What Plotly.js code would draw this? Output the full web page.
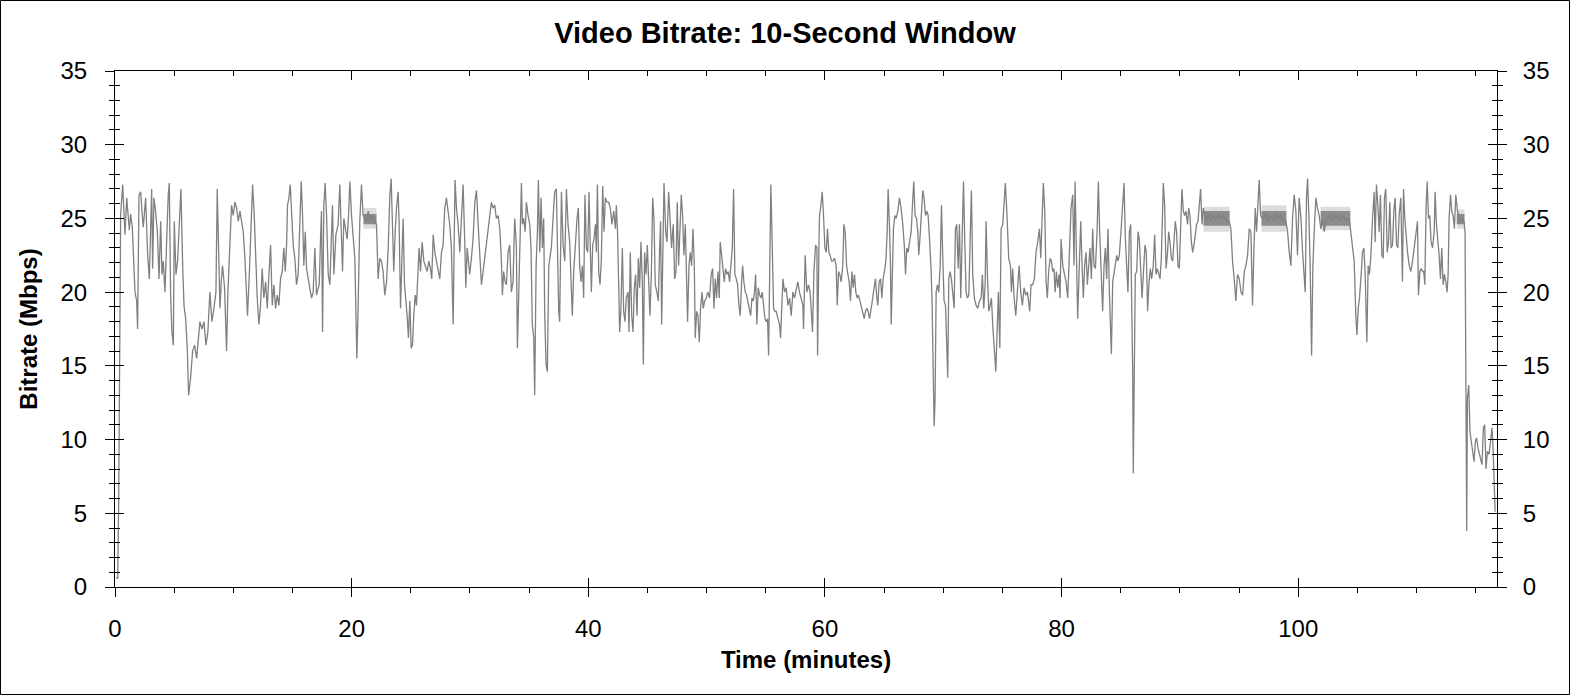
<!DOCTYPE html>
<html>
<head>
<meta charset="utf-8">
<script src="https://cdn.plot.ly/plotly-3.0.1.min.js"></script>
<style>
html,body{margin:0;padding:0;background:#fff;}
#chart{width:1570px;height:695px;}
</style>
</head>
<body>
<div id="chart"></div>
<script>
// Time in minutes
const time = [
0.08,0.23,0.31,0.37,0.48,0.65,0.84,0.99,1.13,1.21,1.32,1.46,1.55,1.69,1.83,1.91,2.03,2.17,2.31,2.39,2.59,2.76,2.90,3.01,3.10,3.18,3.29,3.43,3.58,3.72,3.86,3.97,4.08,4.22,4.36,4.50,4.59,4.70,4.81,4.93,5.01,5.15,5.29,5.43,5.57,5.72,5.83,5.97,6.11,6.22,6.39,6.56,6.73,6.90,7.07,7.18,7.35,7.52,7.69,7.85,8.02,8.19,8.36,8.53,8.64,8.76,8.87,8.98,9.09,9.26,9.43,9.54,9.71,9.85,9.99,10.14,10.28,10.42,10.56,10.70,10.84,10.98,11.12,11.20,11.35,11.46,11.63,11.77,11.91,12.02,12.16,12.30,12.44,12.58,12.73,12.87,13.01,13.15,13.29,13.43,13.57,13.71,13.85,13.99,14.13,14.27,14.39,14.50,14.58,14.70,14.81,14.92,15.06,15.20,15.34,15.48,15.63,15.74,15.85,15.96,16.08,16.19,16.33,16.47,16.61,16.75,16.89,17.03,17.26,17.37,17.45,17.54,17.65,17.76,17.88,18.02,18.16,
18.38,18.50,18.67,18.86,19.00,19.14,19.23,19.34,19.48,19.62,19.74,19.85,19.99,20.13,20.27,20.35,20.44,20.55,20.69,20.83,20.97,21.11,21.25,21.40,21.54,21.68,21.82,21.96,22.10,22.24,22.38,22.52,22.66,22.80,22.95,23.09,23.23,23.34,23.45,23.56,23.68,23.79,23.93,24.01,24.13,24.24,24.35,24.47,24.58,24.69,24.80,24.92,25.03,25.14,25.25,25.37,25.48,25.59,25.70,25.82,25.96,26.10,26.24,26.38,26.52,26.66,26.77,26.89,27.03,27.17,27.31,27.45,27.59,27.73,27.87,28.01,28.15,28.29,28.43,28.58,28.66,28.74,28.86,29.00,29.14,29.28,29.42,29.56,29.65,29.76,29.87,29.98,30.12,30.26,30.41,30.55,30.69,30.83,30.97,31.11,31.25,31.39,31.53,31.67,31.81,31.95,32.09,32.23,32.38,32.52,32.66,32.74,32.85,32.97,33.08,33.22,33.36,33.50,33.64,33.78,33.92,34.01,34.12,34.23,34.35,34.43,34.54,34.66,34.77,34.91,35.05,35.16,35.27,35.39,35.47,35.59,35.70,35.78,35.90,36.01,36.12,36.23,36.32,36.43,36.54,36.66,36.77,36.88,37.02,37.16,37.30,37.39,37.50,37.58,
37.73,37.87,38.01,38.15,38.29,38.43,38.57,38.65,38.77,38.91,39.05,39.16,39.27,39.39,39.50,39.61,39.72,39.84,39.95,40.06,40.17,40.26,40.37,40.48,40.60,40.68,40.77,40.88,40.99,41.10,41.22,41.33,41.44,41.58,41.72,41.86,42.00,42.15,42.29,42.37,42.48,42.57,42.65,42.76,42.88,42.99,43.10,43.21,43.36,43.44,43.55,43.67,43.78,43.89,44.00,44.12,44.23,44.34,44.45,44.57,44.65,44.76,44.88,44.99,45.10,45.21,45.33,45.44,45.55,45.66,45.80,45.92,46.03,46.11,46.20,46.31,46.40,46.54,46.65,46.79,46.90,47.04,47.18,47.30,47.41,47.52,47.63,47.75,47.86,47.97,48.08,48.20,48.31,48.39,48.51,48.62,48.73,48.85,48.96,49.04,49.16,49.27,49.38,49.49,49.61,49.72,49.83,49.97,50.11,50.25,50.39,50.51,50.62,50.73,50.84,50.96,51.07,51.15,51.27,51.38,51.49,51.60,51.72,51.83,51.94,52.05,52.17,52.28,52.39,52.51,52.62,52.73,52.84,52.96,53.04,53.15,53.27,53.38,53.49,53.60,53.72,53.83,53.94,54.05,54.14,54.25,54.36,54.48,54.59,54.70,54.81,54.93,55.04,55.15,55.24,55.35,55.43,55.55,55.66,55.77,55.88,56.03,56.17,56.25,56.36,56.45,56.59,56.73,56.87,57.01,57.15,57.29,57.43,57.57,57.71,
57.85,57.99,58.14,58.19,58.33,58.47,58.61,58.75,58.87,58.95,59.07,59.21,59.32,59.38,59.49,59.54,59.66,59.77,59.88,60.00,60.11,60.22,60.33,60.44,60.56,60.67,60.81,60.95,61.04,61.15,61.26,61.37,61.51,61.60,61.71,61.83,61.94,62.05,62.16,62.28,62.39,62.50,62.61,62.73,62.84,62.95,63.06,63.18,63.32,63.43,63.54,63.65,63.77,63.91,64.05,64.19,64.27,64.39,64.47,64.58,64.70,64.81,64.92,65.03,65.15,65.26,65.34,65.46,65.54,65.60,65.71,65.79,65.91,66.02,66.16,66.30,66.44,66.58,66.72,66.81,66.92,67.03,67.15,67.29,67.43,67.51,67.62,67.74,67.85,67.93,68.05,68.16,68.27,68.38,68.50,68.61,68.72,68.84,68.98,69.06,69.15,69.23,69.31,69.40,69.51,69.62,69.74,69.85,69.96,70.07,70.19,70.30,70.38,70.47,70.58,70.69,70.80,70.92,71.03,71.14,71.26,71.37,71.48,71.59,71.71,71.82,71.93,72.04,72.16,72.27,72.38,72.49,72.63,72.78,72.92,73.06,73.20,73.31,73.42,73.54,73.62,73.73,73.85,73.96,74.07,74.18,74.32,74.44,74.55,74.66,74.78,74.89,75.03,75.14,75.25,75.39,75.53,75.68,75.76,75.87,75.99,76.13,76.27,76.41,76.55,76.69,76.83,76.97,77.11,
77.22,77.31,77.42,77.56,77.70,77.84,77.98,78.13,78.24,78.35,78.46,78.58,78.69,78.80,78.91,79.03,79.14,79.25,79.36,79.45,79.56,79.67,79.79,79.87,79.96,80.10,80.24,80.38,80.52,80.66,80.80,80.94,81.05,81.14,81.25,81.36,81.50,81.62,81.73,81.84,81.95,82.07,82.18,82.29,82.40,82.52,82.63,82.74,82.86,83.00,83.11,83.22,83.33,83.47,83.59,83.70,83.81,83.92,84.04,84.12,84.21,84.32,84.43,84.54,84.66,84.77,84.88,85.02,85.16,85.28,85.39,85.50,85.61,85.73,85.84,85.92,86.01,86.06,86.15,86.23,86.35,86.46,86.57,86.68,86.80,86.91,87.05,87.16,87.27,87.39,87.50,87.61,87.75,87.87,87.98,88.09,88.20,88.32,88.43,88.51,88.60,88.71,88.83,88.94,89.05,89.16,89.28,89.39,89.50,89.61,89.72,89.84,89.95,90.06,90.17,90.29,90.40,90.51,90.65,90.74,90.85,90.97,91.08,91.19,91.30,91.41,91.53,91.64,91.75,91.87,91.98,92.20,92.42,92.62,92.82,93.04,93.27,93.47,93.67,93.89,94.17,94.31,94.45,94.59,94.73,94.87,95.02,95.16,95.30,95.44,95.58,95.72,95.86,96.00,96.14,
96.25,96.37,96.48,96.59,96.70,96.82,96.99,97.21,97.41,97.61,97.83,98.06,98.26,98.48,98.68,98.96,99.10,99.24,99.38,99.52,99.66,99.80,99.94,100.08,100.23,100.37,100.51,100.59,100.70,100.79,100.90,101.01,101.13,101.24,101.35,101.49,101.63,101.77,101.91,102.06,102.20,102.34,102.62,102.90,103.18,103.46,103.74,104.03,104.31,104.45,104.59,104.73,104.87,104.96,105.07,105.18,105.32,105.43,105.55,105.66,105.80,105.91,106.02,106.14,106.28,106.42,106.50,106.61,106.73,106.84,106.95,107.07,107.18,107.29,107.40,107.52,107.63,107.74,107.85,107.97,108.08,108.19,108.31,108.42,108.53,108.67,108.81,108.90,109.01,109.12,109.24,109.38,109.52,109.66,109.80,109.94,110.08,110.16,110.28,110.39,110.50,110.61,110.70,110.81,110.90,111.01,111.12,111.23,111.35,111.49,111.57,111.68,111.80,111.91,112.02,112.13,112.25,112.36,112.47,112.58,112.67,112.75,112.87,112.98,113.09,113.20,113.32,113.46,113.60,113.74,113.88,114.02,114.10,114.16,114.24,114.30,114.41,114.52,114.64,114.75,114.86,114.97,115.08,115.20,115.31,115.42,115.53,115.65,115.76,115.87,115.99,116.13,116.27,116.38,116.47,116.55,116.64
];

// Bitrate in Mbps
const bitrate = [
0.6,0.6,5.8,16.2,25.3,27.3,23.9,26.4,24.6,24.2,25.3,24.4,22.7,20.0,19.4,17.5,26.6,26.8,25.2,24.4,26.4,22.5,20.9,23.9,27.0,21.6,26.4,25.5,24.1,20.9,24.8,21.2,22.1,20.0,23.9,26.6,27.4,19.8,17.3,16.4,24.8,21.2,22.1,24.1,27.0,21.8,19.1,18.2,16.2,13.0,14.2,16.0,16.4,15.5,16.9,18.0,17.5,18.0,16.4,17.3,20.0,18.0,18.9,20.0,27.0,21.8,18.9,20.7,21.8,20.3,16.0,20.0,22.7,25.9,25.2,26.1,25.7,24.8,25.5,24.8,24.1,22.3,20.0,18.4,21.2,24.1,27.3,25.2,21.8,19.6,17.8,19.1,21.6,19.6,20.7,18.9,21.2,23.2,19.1,20.5,18.9,19.8,19.1,20.9,21.4,23.0,21.4,23.2,25.9,26.4,27.3,25.7,23.2,22.3,20.5,21.2,25.0,27.5,25.2,21.8,24.1,21.6,20.9,20.3,19.6,20.0,23.0,19.8,20.5,23.6,25.5,17.3,25.9,27.4,25.2,21.2,20.5,
25.9,21.2,23.9,24.6,27.3,23.2,21.4,25.0,24.3,23.6,25.2,27.5,25.2,23.9,22.3,19.1,15.5,19.1,24.8,27.3,25.2,25.0,24.8,25.5,24.8,25.2,25.0,24.8,24.6,20.9,22.3,22.1,21.4,19.8,20.7,23.0,26.6,27.7,23.6,21.4,24.1,25.7,26.8,24.8,18.9,23.0,25.0,20.5,19.6,18.4,16.9,19.4,16.2,16.4,18.4,19.8,19.1,21.8,23.0,21.4,23.4,22.1,21.8,21.4,22.1,21.6,20.9,23.9,22.7,22.1,21.4,20.9,22.7,23.2,25.7,26.4,25.5,24.6,23.0,17.8,23.0,27.6,25.7,24.6,22.7,24.6,27.3,23.4,20.3,23.0,21.8,21.2,22.3,23.6,26.1,26.9,24.6,22.5,20.5,21.4,22.3,23.0,24.1,25.2,26.1,25.7,25.9,25.0,25.2,24.3,22.1,19.8,21.4,20.7,20.5,22.7,23.2,20.0,20.7,25.0,23.2,16.2,20.3,23.0,27.4,24.6,25.0,24.1,26.1,25.2,24.6,23.0,17.8,16.9,13.0,21.8,24.1,27.6,22.7,26.4,23.0,25.0,18.4,15.1,14.6,21.8,22.3,23.0,25.0,26.8,27.0,21.8,18.7,18.0,
26.8,23.2,22.1,27.0,24.6,23.4,20.0,18.4,21.4,23.4,25.0,25.7,21.8,20.7,21.8,19.6,26.6,23.0,22.7,26.8,21.8,20.0,23.2,23.6,24.6,22.7,27.3,21.4,20.5,22.1,27.2,24.1,26.4,26.1,26.1,25.7,24.6,25.5,24.3,25.9,23.9,19.6,17.3,18.9,23.0,18.7,18.0,19.6,20.0,17.3,22.7,18.4,17.3,20.3,21.2,18.4,22.3,20.3,23.4,20.7,15.1,22.7,21.2,23.2,20.0,18.4,21.2,26.4,25.0,20.5,20.0,19.4,23.0,24.8,17.8,24.1,27.4,24.1,23.4,26.8,24.8,23.0,24.6,20.9,21.4,26.1,21.8,24.1,26.6,25.2,22.5,24.6,19.6,18.0,21.8,22.7,21.8,24.3,21.8,16.9,18.7,18.4,16.6,18.9,20.0,18.9,19.4,19.6,20.0,19.6,21.2,21.6,18.9,20.9,19.6,21.4,19.6,23.4,22.5,21.8,20.7,21.6,21.2,21.4,20.7,21.8,23.0,27.0,21.2,20.9,20.5,19.1,18.4,20.7,21.8,20.7,20.0,19.8,19.4,18.9,18.4,19.6,19.4,20.0,21.2,17.8,20.3,19.8,19.6,20.0,18.9,18.2,18.0,18.2,15.7,24.1,27.3,23.0,18.9,18.7,18.7,18.2,17.8,16.9,20.0,20.9,20.0,20.3,19.1,19.6,18.4,20.0,19.6,20.3,20.7,
20.0,19.6,19.1,17.5,22.5,20.0,20.5,20.0,18.2,17.3,21.4,23.2,23.0,15.7,23.0,25.2,25.9,26.8,25.2,23.0,22.7,24.3,22.7,22.5,22.1,22.1,22.3,21.8,19.1,21.4,21.2,20.7,21.8,24.6,24.1,21.8,21.2,20.7,19.4,21.4,20.3,21.2,20.0,19.6,19.8,19.4,19.1,18.7,18.2,18.7,18.9,18.7,18.2,18.9,19.6,20.5,20.9,19.6,19.1,20.7,20.9,19.6,20.9,21.4,22.1,24.1,27.0,24.3,21.8,17.8,21.8,24.3,25.2,25.0,25.5,26.4,25.7,24.6,23.0,21.2,23.0,22.7,23.4,24.1,26.4,27.5,25.2,25.0,24.1,22.5,23.9,25.9,26.9,26.4,25.2,25.5,25.2,23.6,21.4,19.1,12.8,10.9,12.8,20.0,20.5,20.0,21.8,25.9,22.3,19.4,19.1,15.5,14.2,20.9,21.4,20.9,19.6,18.9,24.3,24.6,21.6,24.6,19.6,23.0,27.5,23.4,20.0,19.6,19.8,23.4,26.9,21.2,19.6,19.1,18.9,19.4,19.6,21.2,18.9,20.5,24.8,21.2,18.7,19.1,19.6,17.8,16.4,14.6,17.3,20.0,16.2,24.3,24.6,26.4,27.4,25.2,22.3,21.8,20.0,21.6,19.6,18.4,19.8,21.8,20.0,19.1,20.3,19.8,20.0,
19.1,18.7,20.5,20.5,20.9,22.7,23.4,24.3,22.3,24.6,27.4,25.5,20.7,19.6,21.4,22.3,22.1,21.4,21.6,20.0,21.4,20.3,21.2,19.6,23.6,21.8,21.2,20.7,19.6,23.2,25.7,26.6,21.8,27.5,22.5,18.2,21.8,24.8,21.8,19.6,21.8,22.7,20.5,21.8,23.0,20.9,24.3,21.8,21.6,24.1,27.5,24.1,21.4,18.7,21.8,23.0,20.9,24.3,20.0,18.4,15.8,20.7,21.2,21.8,22.5,22.1,22.5,24.1,25.9,27.4,23.6,22.1,20.0,24.1,24.6,19.6,14.6,7.7,14.2,21.2,21.4,24.1,23.6,21.8,19.6,21.2,23.2,22.7,18.7,20.7,21.6,20.9,21.8,23.9,21.2,21.6,21.2,20.9,22.3,25.2,27.4,25.9,21.6,22.5,24.1,23.4,22.3,22.1,23.4,24.8,24.1,21.8,21.6,24.6,27.0,25.5,25.2,25.5,24.6,25.7,25.2,23.4,22.7,23.2,23.9,24.6,24.8,26.1,27.0,24.6,25.7,24.9,25.3,24.8,25.2,24.9,25.3,25.0,25.2,24.9,24.8,24.3,22.1,20.9,19.4,21.2,20.9,20.0,19.8,21.4,21.8,22.5,24.3,24.1,19.1,
22.7,25.7,24.1,25.9,27.6,25.2,25.0,25.3,24.8,25.2,24.9,25.3,25.0,25.2,24.9,24.8,24.1,22.7,21.8,25.0,26.6,25.5,22.5,26.4,25.0,22.7,21.2,20.0,26.4,27.7,25.2,21.8,15.7,21.8,24.1,26.4,25.7,25.2,24.3,25.0,24.1,24.8,25.2,24.9,25.2,24.9,25.2,24.9,25.0,24.1,23.4,22.1,18.4,17.1,18.9,19.6,21.2,22.7,23.0,21.2,16.6,21.8,21.2,22.5,25.0,26.8,23.4,27.3,25.9,24.1,26.6,22.5,22.3,26.4,27.0,22.7,23.4,26.1,23.0,23.2,25.5,26.4,23.2,23.0,25.2,26.4,20.7,27.0,25.0,23.6,22.7,21.8,21.4,22.1,23.0,24.1,24.8,19.8,21.4,21.6,21.4,21.4,20.5,25.9,27.5,25.0,25.2,23.4,23.0,24.1,26.8,24.6,23.6,22.5,20.9,23.0,20.5,21.2,20.7,20.0,21.2,25.0,26.6,25.5,25.2,24.3,26.6,25.5,25.0,24.8,25.0,24.8,24.1,13.9,3.8,12.8,13.7,10.5,9.9,9.2,8.5,9.9,10.1,9.4,9.0,8.7,8.3,10.8,11.0,8.0,9.2,9.0,10.1,10.8,9.4,7.1,5.1
];

// Steady stretches where the 10-second window shows a dense band (minutes, Mbps)
const bandStart = [21.0, 92.0, 96.9, 101.9, 113.4];
const bandEnd   = [22.1, 94.2, 99.0, 104.4, 114.05];
const lightLow  = [24.3, 24.1, 24.1, 24.2, 24.3];
const lightHigh = [25.7, 25.8, 25.9, 25.8, 25.6];
const darkLow   = [24.6, 24.5, 24.5, 24.5, 24.6];
const darkHigh  = [25.3, 25.5, 25.5, 25.5, 25.3];

const xTicks = [0, 20, 40, 60, 80, 100];
const yTicks = [0, 5, 10, 15, 20, 25, 30, 35];

const FONT = 'Liberation Sans, Arial, Helvetica, sans-serif';
const XR = [0, 116.8];
const YR = [0, 35];

function bandPolys(lo, hi) {
  const xs = [], ys = [];
  for (let i = 0; i < bandStart.length; i++) {
    xs.push(bandStart[i], bandEnd[i], bandEnd[i], bandStart[i], bandStart[i], null);
    ys.push(lo[i], lo[i], hi[i], hi[i], lo[i], null);
  }
  return {x: xs, y: ys};
}
const lightPoly = bandPolys(lightLow, lightHigh);
const darkPoly = bandPolys(darkLow, darkHigh);

const common = {
  showgrid: false, zeroline: false, fixedrange: true, autorange: false,
  tickcolor: '#000', tickwidth: 1, linecolor: '#000', linewidth: 1
};

const traces = [
  {x: lightPoly.x, y: lightPoly.y, type: 'scatter', mode: 'lines', fill: 'toself',
   fillcolor: '#dcdcdc', line: {width: 0, color: '#dcdcdc'}, hoverinfo: 'skip', showlegend: false},
  {x: darkPoly.x, y: darkPoly.y, type: 'scatter', mode: 'lines', fill: 'toself',
   fillcolor: '#8c8c8c', line: {width: 0, color: '#8c8c8c'}, hoverinfo: 'skip', showlegend: false},
  {x: time, y: bitrate, type: 'scatter', mode: 'lines',
   line: {color: '#808080', width: 1.3}, hoverinfo: 'skip', showlegend: false,
   xaxis: 'x', yaxis: 'y'},
  {x: [null], y: [null], type: 'scatter', mode: 'lines', xaxis: 'x2', yaxis: 'y', showlegend: false, hoverinfo: 'skip'},
  {x: [null], y: [null], type: 'scatter', mode: 'lines', xaxis: 'x3', yaxis: 'y', showlegend: false, hoverinfo: 'skip'},
  {x: [null], y: [null], type: 'scatter', mode: 'lines', xaxis: 'x', yaxis: 'y2', showlegend: false, hoverinfo: 'skip'},
  {x: [null], y: [null], type: 'scatter', mode: 'lines', xaxis: 'x', yaxis: 'y3', showlegend: false, hoverinfo: 'skip'},
  {x: [null], y: [null], type: 'scatter', mode: 'lines', xaxis: 'x', yaxis: 'y4', showlegend: false, hoverinfo: 'skip'}
];

const tickFont = {family: FONT, size: 24, color: '#000'};
const titleFont = {family: FONT, size: 24, color: '#000', weight: 'bold'};

const layout = {
  width: 1570, height: 695,
  margin: {l: 115, r: 73, t: 71, b: 108, pad: 0},
  paper_bgcolor: '#fff', plot_bgcolor: '#fff',
  showlegend: false,
  title: {text: 'Video Bitrate: 10-Second Window', font: {family: FONT, size: 29, color: '#000', weight: 'bold'},
          x: 0.5, xref: 'container', xanchor: 'center', y: 1 - 32.5/695, yref: 'container', yanchor: 'middle'},
  xaxis: Object.assign({}, common, {
    range: XR, side: 'bottom', anchor: 'y', showline: true, mirror: false,
    tickmode: 'array', tickvals: xTicks, ticktext: xTicks.map(String),
    ticks: 'outside', ticklen: 9, tickfont: tickFont, ticklabelstandoff: 11,
    minor: {dtick: 5, tick0: 0, ticks: 'outside', ticklen: 5, tickcolor: '#000', tickwidth: 1, showgrid: false},
    title: {text: 'Time (minutes)', font: titleFont, standoff: 10}
  }),
  xaxis2: Object.assign({}, common, {
    range: XR, overlaying: 'x', side: 'bottom', anchor: 'y', showline: false,
    tickmode: 'array', tickvals: xTicks, ticks: 'inside', ticklen: 9, showticklabels: false
  }),
  xaxis3: Object.assign({}, common, {
    range: XR, overlaying: 'x', side: 'top', anchor: 'y', showline: true,
    tickmode: 'array', tickvals: xTicks, ticks: 'inside', ticklen: 9, showticklabels: false,
    minor: {dtick: 5, tick0: 0, ticks: 'inside', ticklen: 5, tickcolor: '#000', tickwidth: 1, showgrid: false}
  }),
  yaxis: Object.assign({}, common, {
    range: YR, side: 'left', anchor: 'x', showline: true,
    tickmode: 'array', tickvals: yTicks, ticktext: yTicks.map(String),
    ticks: 'outside', ticklen: 9, tickfont: tickFont, ticklabelstandoff: 13,
    minor: {dtick: 1, tick0: 0, ticks: 'outside', ticklen: 5, tickcolor: '#000', tickwidth: 1, showgrid: false},
    title: {text: 'Bitrate (Mbps)', font: titleFont, standoff: 16}
  }),
  yaxis2: Object.assign({}, common, {
    range: YR, overlaying: 'y', side: 'left', anchor: 'x', showline: false,
    tickmode: 'array', tickvals: yTicks, ticks: 'inside', ticklen: 9, showticklabels: false,
    minor: {dtick: 1, tick0: 0, ticks: 'inside', ticklen: 5, tickcolor: '#000', tickwidth: 1, showgrid: false}
  }),
  yaxis3: Object.assign({}, common, {
    range: YR, overlaying: 'y', side: 'right', anchor: 'x', showline: true,
    tickmode: 'array', tickvals: yTicks, ticktext: yTicks.map(String),
    ticks: 'outside', ticklen: 9, tickfont: tickFont, ticklabelstandoff: 11,
    minor: {dtick: 1, tick0: 0, ticks: 'outside', ticklen: 5, tickcolor: '#000', tickwidth: 1, showgrid: false}
  }),
  yaxis4: Object.assign({}, common, {
    range: YR, overlaying: 'y', side: 'right', anchor: 'x', showline: false,
    tickmode: 'array', tickvals: yTicks, ticks: 'inside', ticklen: 9, showticklabels: false,
    minor: {dtick: 1, tick0: 0, ticks: 'inside', ticklen: 5, tickcolor: '#000', tickwidth: 1, showgrid: false}
  }),
  shapes: [{
    type: 'rect', xref: 'paper', yref: 'paper', layer: 'above',
    x0: (0.5 - 115) / 1382, x1: (1569.5 - 115) / 1382,
    y0: (587 - 694.5) / 516, y1: (587 - 0.5) / 516,
    line: {color: '#000', width: 1}, fillcolor: 'rgba(0,0,0,0)'
  }]
};

Plotly.newPlot('chart', traces, layout, {staticPlot: true, displayModeBar: false});
</script>
</body>
</html>
